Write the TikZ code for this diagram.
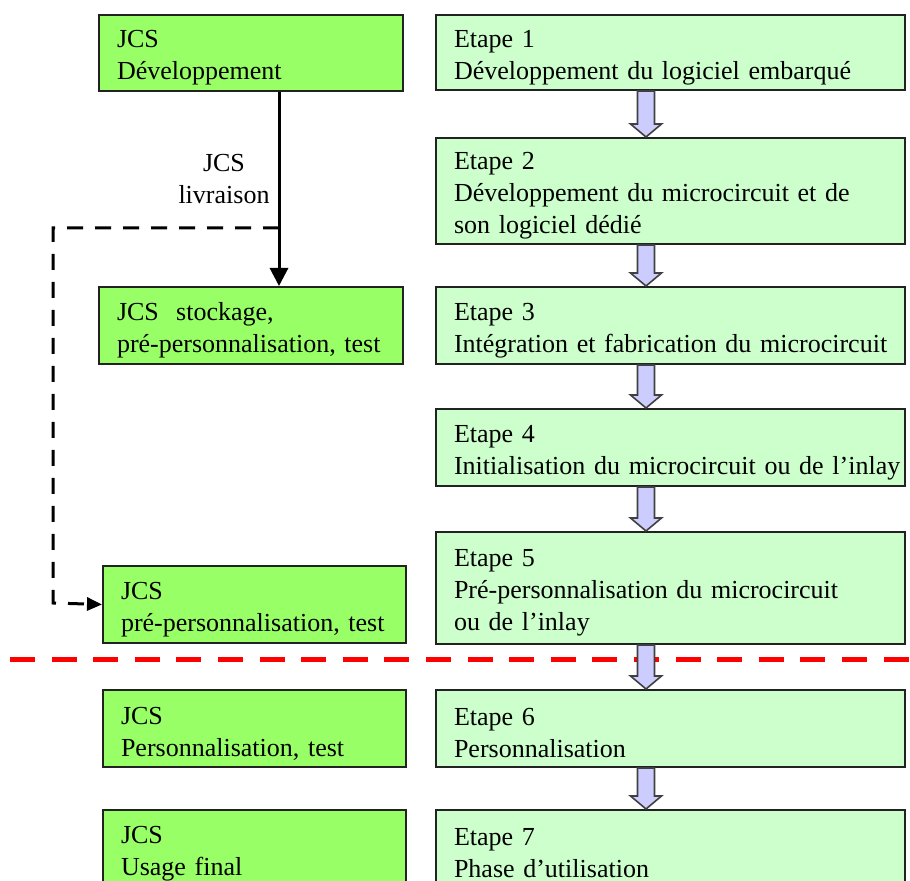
\documentclass[tikz,border=0pt]{standalone}
\usepackage{fontspec}
\setmainfont{Liberation Serif}
\usepackage{xcolor}
\usepackage{tikz}
\usetikzlibrary{calc}
\usetikzlibrary{arrows.meta}

\definecolor{jcsgreen}{HTML}{99FF66}
\definecolor{etapegreen}{HTML}{CCFFCC}
\definecolor{flowfill}{HTML}{CCCCFF}
\definecolor{boxline}{HTML}{222222}

\begin{document}
\begin{tikzpicture}[x=0.5pt,y=-0.5pt,
  box/.style={draw=boxline,line width=1pt,anchor=north west,align=left,
    inner ysep=0pt,text height=13.5pt,font=\fontsize{13}{16}\selectfont},
  jcs/.style={box,fill=jcsgreen,inner xsep=9pt,text width=134pt,
    minimum width=152pt},
  etape/.style={box,fill=etapegreen,inner xsep=9pt,text width=216.5pt,
    minimum width=234.5pt},
  flow/.style={fill=flowfill,draw=black!75,line width=0.8pt,line join=miter}]
\useasboundingbox (0,0) rectangle (910,881);
\clip (0,0) rectangle (910,881);

\node[jcs,minimum height=38pt] (J1) at (98,14) {JCS\\D\'eveloppement};
\node[jcs,minimum height=38.5pt] (J2) at (98,286) {JCS\ \ stockage,\\pr\'e-personnalisation, test};
\node[jcs,minimum height=38.5pt,text width=133.5pt,minimum width=151.5pt] (J3) at (102,565) {JCS\\pr\'e-personnalisation, test};
\node[jcs,minimum height=38.5pt,text width=133.5pt,minimum width=151.5pt] (J4) at (102,689) {JCS\\Personnalisation, test};
\node[jcs,minimum height=38.5pt,text width=133.5pt,minimum width=151.5pt] (J5) at (102,809) {JCS\\Usage final};

\node[etape,minimum height=37.5pt] (E1) at (435,14) {Etape 1\\D\'eveloppement du logiciel embarqu\'e};
\node[etape,minimum height=53pt] (E2) at (435,137) {Etape 2\\\mbox{D\'eveloppement du microcircuit et de}\\son logiciel d\'edi\'e};
\node[etape,minimum height=38.5pt] (E3) at (435,286) {Etape 3\\\mbox{Int\'egration et fabrication du microcircuit}};
\node[etape,minimum height=38.5pt] (E4) at (435,408) {Etape 4\\\mbox{Initialisation du microcircuit ou de l’inlay}};
\node[etape,minimum height=56pt] (E5) at (435,531) {Etape 5\\\mbox{Pr\'e-personnalisation du microcircuit}\\ou de l’inlay};
\node[etape,minimum height=38.5pt] (E6) at (435,689) {Etape 6\\Personnalisation};
\node[etape,minimum height=38.5pt] (E7) at (435,809) {Etape 7\\Phase d’utilisation};

\coordinate (drop) at (279,0);
\coordinate (split) at (279,228);
\coordinate (corner1) at (53,228);
\coordinate (corner2) at (53,603);
\coordinate (ax) at (646,0);

\draw[line width=1.5pt,-{Triangle[width=9pt,length=9pt]}] (drop |- J1.south) -- (drop |- J2.north);
\node[align=center,font=\fontsize{13}{16}\selectfont] (livr) at (224,179) {JCS\\livraison};
\draw[line width=1.5pt,dash pattern=on 8pt off 6pt,-{Triangle[width=6.5pt,length=7.5pt]}]
  (split) -- (corner1) -- (corner2) -- (J3.west);

\draw[red,line width=2.5pt,dash pattern=on 12.5pt off 8.3pt] (10,659) -- (910,659);

\foreach \a/\b in {E1/E2,E2/E3,E3/E4,E4/E5,E5/E6,E6/E7}
  \draw[flow] ($(ax |- \a.south)+(-8.5,0)$) -- ($(ax |- \b.north)+(-8.5,-13)$) -- ++(-7,0)
    -- (ax |- \b.north) -- ++(15.5,-13) -- ++(-7,0) -- ($(ax |- \a.south)+(8.5,0)$) -- cycle;

\end{tikzpicture}
\end{document}
